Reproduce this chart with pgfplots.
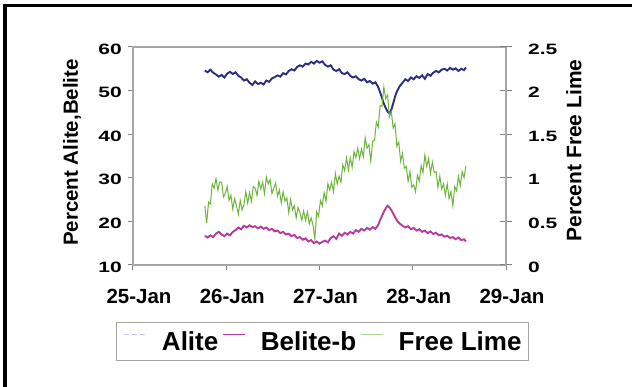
\documentclass[border=0pt]{standalone}
\usepackage{pgfplots}
\usepackage{pgfplotstable}
\pgfplotsset{compat=1.18}
\usepackage{fontspec}
\setmainfont{Liberation Sans}
\usepackage{graphicx}
\definecolor{alite}{HTML}{2B2D80}
\definecolor{belite}{HTML}{B53C9C}
\definecolor{flime}{HTML}{6CB43A}
\definecolor{axisgray}{HTML}{A6A6A6}
\definecolor{tickgray}{HTML}{808080}
\definecolor{lavender}{HTML}{C4C4E4}
\definecolor{lightlime}{HTML}{ACD894}

\pgfplotstableread{
x y
25.77 54.6
25.80 54.2
25.83 54.8
25.86 54.1
25.89 53.7
25.92 53.2
25.95 53.6
25.98 53.0
26.01 53.9
26.04 54.3
26.07 53.8
26.10 54.2
26.13 53.4
26.16 53.0
26.19 52.3
26.22 52.6
26.25 51.8
26.28 51.3
26.31 52.1
26.34 51.5
26.37 51.8
26.40 51.4
26.43 52.3
26.46 52.0
26.49 52.8
26.52 53.1
26.55 53.5
26.58 53.2
26.61 54.0
26.64 53.7
26.67 54.5
26.70 54.9
26.73 54.6
26.76 55.4
26.79 55.8
26.82 55.5
26.85 56.2
26.88 56.0
26.91 56.6
26.94 56.2
26.97 56.8
27.00 56.4
27.03 56.7
27.06 55.9
27.09 55.5
27.12 55.8
27.15 54.8
27.18 54.5
27.21 54.9
27.24 54.0
27.27 53.8
27.30 54.2
27.33 53.4
27.36 53.0
27.39 53.3
27.42 52.6
27.45 52.3
27.48 52.7
27.51 51.9
27.54 52.2
27.57 51.6
27.60 51.9
27.63 50.8
27.66 49.0
27.69 47.0
27.71 46.0
27.73 45.2
27.75 44.8
27.77 45.6
27.79 47.0
27.81 48.6
27.83 49.8
27.86 51.0
27.89 51.8
27.92 52.6
27.95 52.2
27.98 53.0
28.01 52.6
28.04 53.3
28.07 52.9
28.10 53.5
28.13 52.7
28.16 53.8
28.19 53.4
28.22 54.1
28.25 54.5
28.28 54.2
28.31 54.8
28.34 55.0
28.37 54.6
28.40 55.2
28.43 54.8
28.46 55.1
28.49 54.5
28.52 55.0
28.55 54.7
28.57 55.3
}\alitetable

\pgfplotstableread{
x y
25.77 16.7
25.80 16.3
25.83 16.8
25.86 16.4
25.89 17.2
25.92 17.6
25.95 17.0
25.98 16.6
26.01 17.2
26.04 16.8
26.07 17.6
26.10 18.0
26.13 18.6
26.16 18.2
26.19 19.0
26.22 18.6
26.25 19.1
26.28 18.7
26.31 18.9
26.34 18.4
26.37 18.8
26.40 18.3
26.43 18.6
26.46 18.0
26.49 18.3
26.52 17.7
26.55 17.9
26.58 17.3
26.61 17.6
26.64 17.0
26.67 17.2
26.70 16.6
26.73 16.9
26.76 16.2
26.79 16.4
26.82 15.8
26.85 16.1
26.88 15.4
26.91 15.7
26.94 15.0
26.97 15.4
27.00 14.9
27.03 15.3
27.06 15.6
27.09 15.2
27.12 16.2
27.15 16.6
27.18 16.0
27.21 17.2
27.24 16.7
27.27 17.4
27.30 17.0
27.33 17.6
27.36 17.2
27.39 18.0
27.42 17.6
27.45 18.3
27.48 17.9
27.51 18.5
27.54 18.1
27.57 18.7
27.60 18.3
27.63 19.2
27.66 20.8
27.69 22.2
27.71 23.0
27.73 23.6
27.75 23.2
27.77 22.6
27.79 21.8
27.81 21.0
27.83 20.2
27.86 19.5
27.89 19.0
27.92 18.6
27.95 18.9
27.98 18.2
28.01 18.5
28.04 17.9
28.07 18.2
28.10 17.6
28.13 17.9
28.16 17.3
28.19 17.7
28.22 17.1
28.25 17.4
28.28 16.8
28.31 17.0
28.34 16.5
28.37 16.7
28.40 16.2
28.43 16.4
28.46 15.9
28.49 16.3
28.52 15.7
28.55 15.9
28.57 15.4
}\belitetable

\pgfplotstableread{
x y
25.77 0.68
25.79 0.48
25.81 0.72
25.83 0.70
25.85 0.93
25.87 0.88
25.89 0.99
25.91 0.86
25.93 0.95
25.95 0.95
25.97 0.78
25.99 0.82
26.01 0.90
26.03 0.74
26.05 0.80
26.07 0.64
26.09 0.76
26.11 0.68
26.13 0.58
26.15 0.74
26.17 0.63
26.19 0.69
26.21 0.84
26.23 0.71
26.25 0.83
26.27 0.73
26.29 0.90
26.31 0.88
26.33 0.80
26.35 0.96
26.37 0.87
26.39 0.95
26.41 0.82
26.43 1.01
26.45 0.93
26.47 0.98
26.49 0.82
26.51 0.88
26.53 0.94
26.55 0.79
26.57 0.86
26.59 0.71
26.61 0.84
26.63 0.73
26.65 0.77
26.67 0.60
26.69 0.75
26.71 0.63
26.73 0.68
26.75 0.54
26.77 0.66
26.79 0.60
26.81 0.51
26.83 0.62
26.85 0.51
26.87 0.61
26.89 0.47
26.91 0.54
26.93 0.46
26.95 0.30
26.97 0.61
26.99 0.56
27.01 0.74
27.03 0.68
27.05 0.83
27.07 0.73
27.09 0.93
27.11 0.86
27.13 0.95
27.15 0.84
27.17 1.05
27.19 0.93
27.21 1.02
27.23 0.95
27.25 1.15
27.27 1.08
27.29 1.23
27.31 1.09
27.33 1.23
27.35 1.12
27.37 1.30
27.39 1.23
27.41 1.34
27.43 1.22
27.45 1.33
27.47 1.24
27.49 1.46
27.51 1.34
27.53 1.38
27.55 1.19
27.57 1.42
27.59 1.43
27.61 1.64
27.63 1.58
27.65 1.83
27.67 1.82
27.69 2.04
27.71 1.91
27.73 1.95
27.75 1.70
27.77 1.76
27.79 1.57
27.81 1.62
27.83 1.36
27.85 1.41
27.87 1.19
27.89 1.28
27.91 1.11
27.93 1.13
27.95 0.96
27.97 1.07
27.99 0.89
28.01 0.92
28.03 0.84
28.05 1.03
28.07 0.96
28.09 1.14
28.11 1.06
28.13 1.26
28.15 1.13
28.17 1.22
28.19 1.05
28.21 1.18
28.23 1.06
28.25 1.07
28.27 0.89
28.29 1.02
28.31 0.87
28.33 0.93
28.35 0.80
28.37 0.93
28.39 0.76
28.41 0.84
28.43 0.68
28.45 0.90
28.47 0.85
28.49 1.02
28.51 0.91
28.53 1.07
28.55 1.00
28.57 1.14
}\limetable

\pgfplotsset{
  common/.style={
    width=373pt, height=218pt, scale only axis,
    at={(0pt,0pt)}, anchor=south west,
    xmin=25, xmax=29,
    /pgf/number format/assume math mode=true,
    axis line style={axisgray, line width=1.5pt},
    tick style={tickgray, line width=1pt},
  }
}

\begin{document}
\begin{tikzpicture}
\useasboundingbox (-133pt,-122pt) rectangle (499pt,265pt);
\draw[line width=3.5pt] (-128pt,-130pt) -- (-128pt,259.5pt) -- (510pt,259.5pt);

\begin{axis}[common,
  ymin=10, ymax=60, ytick={10,20,...,60},
  xtick={25,26,27,28,29},
  xticklabels={25-Jan,26-Jan,27-Jan,28-Jan,29-Jan},
  xtick pos=bottom, ytick pos=left,
  tick align=outside, major tick length=5pt,
  xticklabel style={font=\fontsize{20.5}{22}\selectfont\bfseries, inner sep=0pt, anchor=north, yshift=-19pt, xshift=6pt},
  yticklabel style={font=\fontsize{15}{17}\selectfont\bfseries, inner sep=0pt, anchor=east, xshift=-6pt, yshift=-2pt},
  yticklabel={\scalebox{1.4}[1]{\pgfmathprintnumber{\tick}}},
  ylabel={Percent Alite,Belite},
  every axis y label/.style={at={(axis description cs:-0.1635,0.516)}, rotate=90, anchor=center, font=\fontsize{20.5}{22}\selectfont\bfseries},
]
\addplot[alite, line width=1.9pt] table[x=x,y=y] {\alitetable};
\addplot[belite, line width=1.9pt] table[x=x,y=y] {\belitetable};
\end{axis}

\begin{axis}[common,
  ymin=0, ymax=2.5, ytick={0,0.5,...,2.5},
  axis x line=none, axis y line*=right,
  tick align=center, major tick length=12pt,
  yticklabel style={font=\fontsize{15}{17}\selectfont\bfseries, inner sep=0pt, anchor=west, xshift=16pt, yshift=-2pt},
  yticklabel={\scalebox{1.4}[1]{\pgfmathprintnumber{\tick}}},
  ylabel={Percent Free Lime},
  every axis y label/.style={at={(axis description cs:1.182,0.525)}, rotate=90, anchor=center, font=\fontsize{21}{23}\selectfont\bfseries},
  legend columns=-1,
  legend image code/.code={\draw[#1] (0pt,7pt) -- (22pt,7pt);},
  legend style={at={(axis description cs:-0.0456,-0.2615)}, anchor=north west,
    draw=axisgray, line width=1pt, fill=white,
    font=\fontsize{26}{28}\selectfont\bfseries,
    inner xsep=7pt, inner ysep=9pt,
    nodes={inner sep=0pt},
    /tikz/every odd column/.append style={column sep=15pt},
    /tikz/every even column/.append style={column sep=4pt}},
]
\addlegendimage{lavender, line width=1.5pt, dash pattern=on 5pt off 3pt}
\addlegendentry{Alite}
\addlegendimage{belite, line width=1.5pt}
\addlegendentry{Belite-b}
\addlegendimage{lightlime, line width=1.5pt}
\addlegendentry{Free Lime}
\addplot[flime, line width=1pt, forget plot] table[x=x,y=y] {\limetable};
\end{axis}
\end{tikzpicture}
\end{document}
